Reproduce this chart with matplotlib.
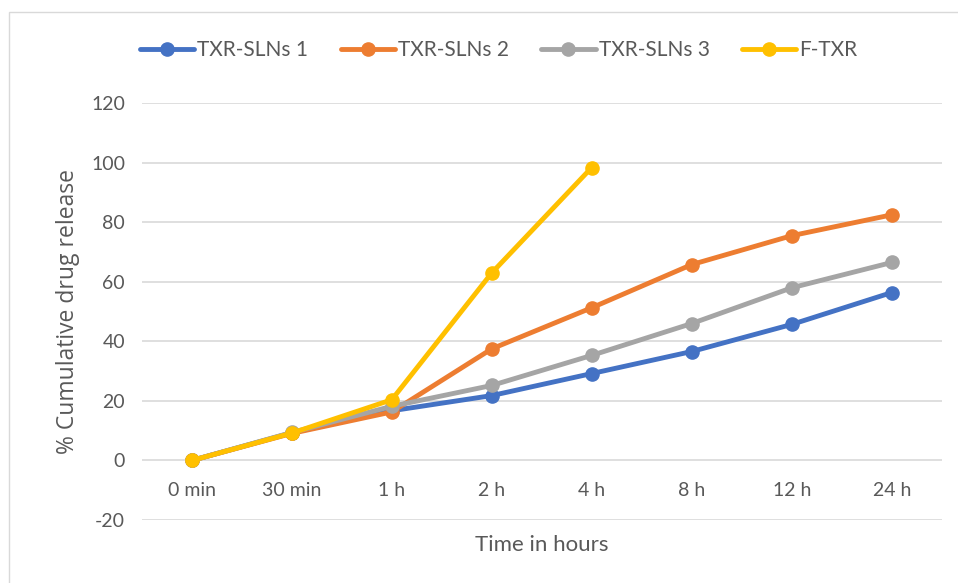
import matplotlib.pyplot as plt
from matplotlib.patches import Rectangle

plt.rcParams['font.family'] = ['Lato', 'DejaVu Sans']
plt.rcParams['axes.unicode_minus'] = False

times = ['0 min', '30 min', '1 h', '2 h', '4 h', '8 h', '12 h', '24 h']
sln1 = [0, 9.3, 16.7, 21.8, 29.2, 36.6, 45.7, 56.4]
sln2 = [0, 9.1, 16.3, 37.5, 51.3, 65.8, 75.5, 82.5]
sln3 = [0, 9.4, 18.2, 25.2, 35.3, 46.0, 58.0, 66.5]
ftxr = [0, 9.2, 20.4, 63.0, 98.4]

series = [
    ('TXR-SLNs 1', sln1, '#4472c4'),
    ('TXR-SLNs 2', sln2, '#ed7d31'),
    ('TXR-SLNs 3', sln3, '#a5a5a5'),
    ('F-TXR', ftxr, '#ffc000'),
]

fig = plt.figure(figsize=(9.58, 5.83), dpi=100)
fig.patches.append(Rectangle((0.009, -0.01), 1.0, 0.99, transform=fig.transFigure,
                             fill=False, edgecolor='#d9d9d9', linewidth=1))
ax = fig.add_axes([0.148, 0.108, 0.835, 0.715])

x = list(range(len(times)))
for name, vals, col in series:
    ax.plot(x[:len(vals)], vals, color=col, lw=3.5, marker='o', ms=9.5,
            label=name, solid_capstyle='round')

ax.set_xlim(-0.5, len(times) - 0.5)
ax.set_ylim(-20, 120)
ax.set_yticks(range(-20, 121, 20))
ax.set_xticks(x)
ax.set_xticklabels(times)
ax.grid(axis='y', color='#d9d9d9', lw=1.2)
ax.set_axisbelow(True)
for s in ax.spines.values():
    s.set_visible(False)
ax.tick_params(axis='y', length=0, labelsize=14, colors='#595959', pad=12)
ax.tick_params(axis='x', length=0, labelsize=14, colors='#595959', pad=0)
# x labels sit between the 0 and -20 gridlines, like Excel does
for lbl in ax.get_xticklabels():
    lbl.set_y(0.092)
ax.set_xlabel('Time in hours', fontsize=16, color='#595959')
ax.xaxis.set_label_coords(0.5, -0.035)
ax.set_ylabel('% Cumulative drug release', fontsize=16.5, color='#595959',
              family=['Open Sans', 'DejaVu Sans'], labelpad=8)

ax.legend(loc='center left', bbox_to_anchor=(-0.002, 1.127), ncol=4, frameon=False,
          fontsize=15, labelcolor='#595959', handlelength=2.6, handletextpad=0.15,
          columnspacing=1.55, borderpad=0, borderaxespad=0)

fig.savefig('out.png', dpi=100)
